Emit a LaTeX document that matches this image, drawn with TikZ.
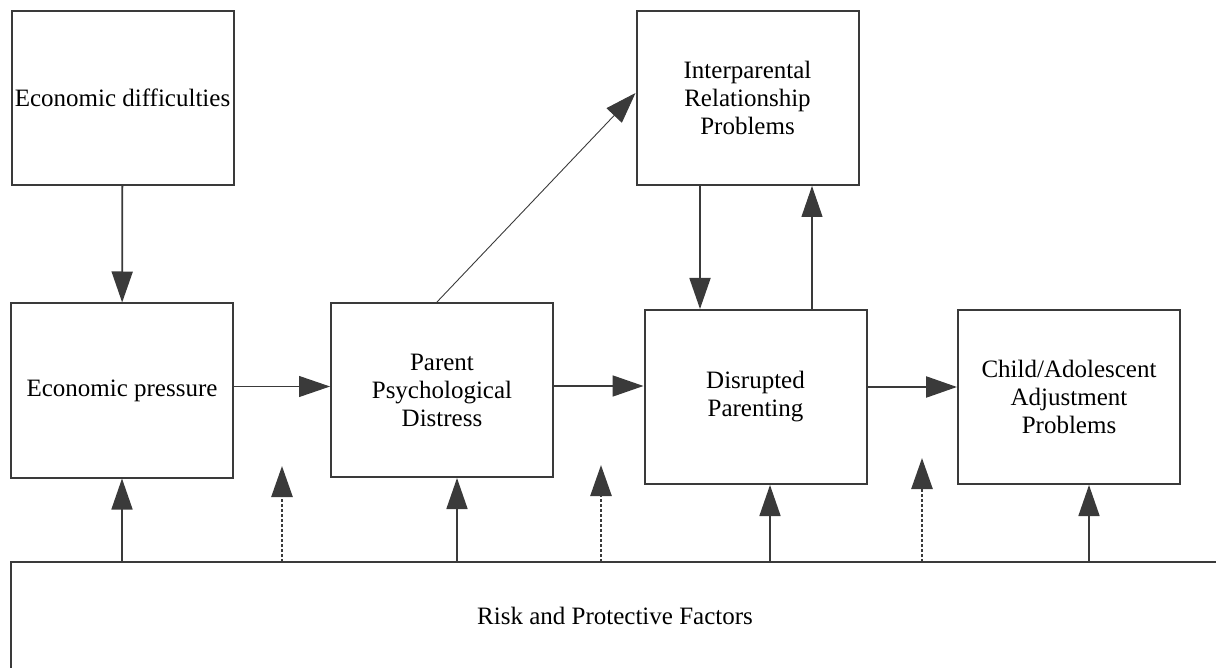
\documentclass[tikz,border=0pt]{standalone}
\usepackage{fontspec}
\setmainfont{Liberation Serif}
\usetikzlibrary{arrows.meta}
\definecolor{linegray}{RGB}{58,58,58}
\tikzset{
  stage/.style={draw=linegray,line width=2pt,minimum width=222pt,minimum height=174pt,
    inner sep=0pt,align=center,font=\fontsize{25}{28}\selectfont},
  arr/.style={draw=linegray,line width=1.8pt,-{Triangle[length=31pt,width=21pt,fill=linegray]}},
  thinarr/.style={arr,line width=1.1pt},
  modarr/.style={arr,dash pattern=on 3pt off 2pt,line width=2.6pt},
}
\begin{document}
\begin{tikzpicture}[x=1pt,y=-1pt]
\useasboundingbox (0,0) rectangle (1216,668);
\node[stage] (ed) at (122.5,98) {Economic difficulties};
\node[stage] (ep) at (122,390.5) {Economic pressure};
\node[stage] (ppd) at (442,390) {Parent\\Psychological\\Distress};
\node[stage] (irp) at (747.5,98) {Interparental\\Relationship\\Problems};
\node[stage] (dp) at (755.5,397) {Disrupted\\Parenting};
\node[stage] (cap) at (1069,397) {Child/Adolescent\\Adjustment\\Problems};
\node[font=\fontsize{25}{28}\selectfont] (risk) at (615,616) {Risk and Protective Factors};
% risk box, open to the right and below
\coordinate (rl) at (11,562);
\draw[linegray,line width=2pt] (1230,562) -- (rl) -- (11,680);
% main path
\draw[arr] (ed) -- (ep);
\draw[thinarr] ([yshift=4pt]ep.east) -- ([yshift=4pt]ep.east -| ppd.west);
\draw[arr] ([yshift=4pt]ppd.east) -- ([yshift=4pt]ppd.east -| dp.west);
\draw[arr,line width=2.4pt] ([yshift=10pt]dp.east) -- ([yshift=10pt]dp.east -| cap.west);
\draw[thinarr,line width=0.9pt] ([xshift=-5pt]ppd.north) -- ([yshift=5pt]irp.west);
\coordinate (d1) at (700,0);
\coordinate (d2) at (812,0);
\draw[arr] (irp.south -| d1) -- (dp.north -| d1);
\draw[thinarr] (dp.north -| d2) -- (irp.south -| d2);
% influence of risk and protective factors
\foreach \x/\tgt in {122/ep,457/ppd,770/dp,1089/cap}{
  \coordinate (r\x) at (\x,562);
  \draw[arr,line width=1.6pt] (r\x) -- (r\x |- \tgt.south);
}
\foreach \x/\y in {282/466,601/465,922/458}{
  \coordinate (m\x) at (\x,562);
  \coordinate (t\x) at (\x,\y);
  \draw[modarr] (m\x) -- (t\x);
}
\end{tikzpicture}
\end{document}
